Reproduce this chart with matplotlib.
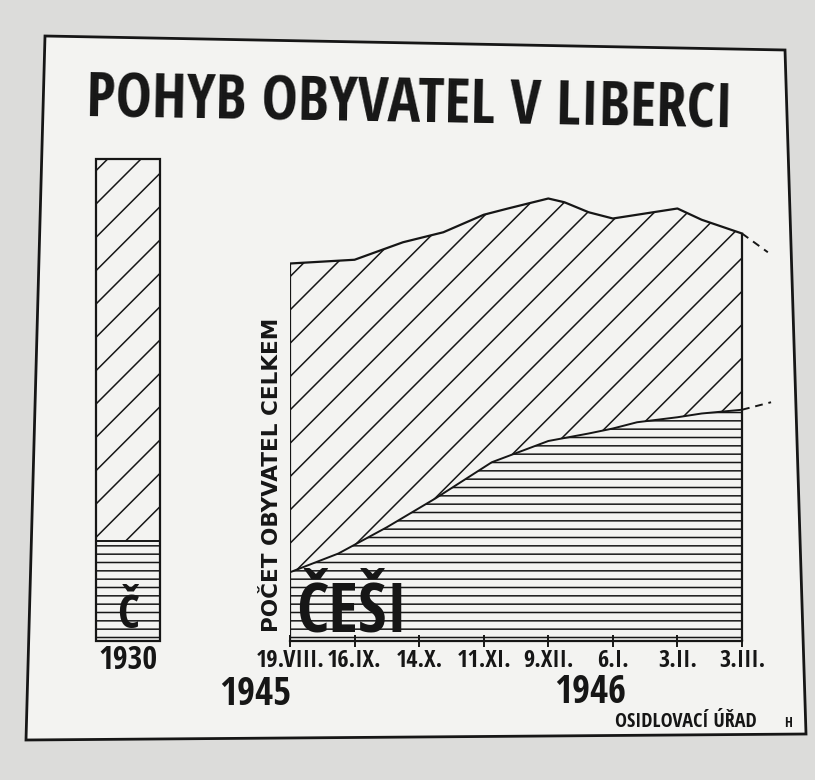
"""Pohyb obyvatel v Liberci - prekresleni plakatu (1930, 1945-1946)."""
import matplotlib
matplotlib.use("Agg")
import matplotlib.pyplot as plt
from matplotlib.patches import Polygon

plt.rcParams["font.family"] = ["DejaVu Sans"]
plt.rcParams["hatch.linewidth"] = 1.1

# pismo "rucniho" napisu - uzke, tucne
COND = ["Open Sans Condensed", "DejaVu Sans"]

# --- data (tisice obyvatel) ---
bar_year = "1930"
total_1930 = 38.6
czech_1930 = 8.0

# tydny od 19.VIII.1945
total_weeks = [0, 4, 7, 9.5, 12, 13.5, 16, 17, 18.5, 20, 24, 25.5, 28]
total_vals = [30.2, 30.5, 31.9, 32.7, 34.1, 34.6, 35.4, 35.1, 34.3, 33.8, 34.6, 33.7, 32.6]
total_trend_weeks = [28, 29.6]
total_trend_vals = [32.6, 31.1]

czech_weeks = [0, 3, 6, 9, 12.5, 16, 18.5, 20, 21.5, 24, 25.5, 28]
czech_vals = [5.5, 7.0, 9.1, 11.4, 14.3, 16.0, 16.6, 17.0, 17.5, 17.9, 18.2, 18.5]
czech_trend_weeks = [28, 29.8]
czech_trend_vals = [18.5, 19.1]

tick_weeks = [0, 4, 8, 12, 16, 20, 24, 28]
tick_labels = ["19.VIII.", "16.IX.", "14.X.", "11.XI.", "9.XII.", "6.I.", "3.II.", "3.III."]

INK = "#161616"
PAPER = "#f3f3f1"
W, H = 815, 780


def fx(px):
    return px / W


def fy(py):
    return 1 - py / H


fig = plt.figure(figsize=(8.15, 7.8), dpi=100, facecolor="#dcdcda")

# ramecek plakatu
frame = Polygon([(fx(45), fy(36)), (fx(785), fy(50)), (fx(806), fy(734)), (fx(26), fy(740))],
                closed=True, transform=fig.transFigure, facecolor=PAPER,
                edgecolor=INK, lw=2.0, zorder=0)
fig.add_artist(frame)

YMAX = 45.0
base_px, top_px = 641, 641 - 12.5 * YMAX

# hlavni graf
ax = fig.add_axes([fx(290), fy(base_px), fx(795) - fx(290), (base_px - top_px) / H])
ax.set_facecolor("none")
ax.set_xlim(0, 505 / (452 / 28))
ax.set_ylim(0, YMAX)

ax.fill_between(total_weeks, 0, total_vals, facecolor="none", hatch="/",
                edgecolor=INK, lw=0)
ax.fill_between(czech_weeks, 0, czech_vals, facecolor=PAPER, hatch="--",
                edgecolor=INK, lw=0)
ax.plot(total_weeks, total_vals, color=INK, lw=1.6)
ax.plot(czech_weeks, czech_vals, color=INK, lw=1.4)
ax.vlines([total_weeks[0], total_weeks[-1]], 0, [total_vals[0], total_vals[-1]],
          color=INK, lw=1.6)
ax.plot(total_trend_weeks, total_trend_vals, color=INK, lw=1.4, ls=(0, (4, 3)))
ax.plot(czech_trend_weeks, czech_trend_vals, color=INK, lw=1.4, ls=(0, (4, 3)))

for side in ["top", "right", "left"]:
    ax.spines[side].set_visible(False)
ax.spines["bottom"].set_bounds(0, 28)
ax.spines["bottom"].set_linewidth(1.6)
ax.spines["bottom"].set_color(INK)
ax.set_yticks([])
ax.set_xticks(tick_weeks)
ax.set_xticklabels(tick_labels, fontsize=17.5, fontweight="bold", color=INK,
                   family=COND, fontstretch="condensed")
ax.tick_params(axis="x", direction="inout", length=9, width=1.4, color=INK, pad=1)

# sloupec 1930
axb = fig.add_axes([fx(96), fy(base_px), fx(160) - fx(96), (base_px - top_px) / H])
axb.set_facecolor("none")
axb.set_xlim(0, 1)
axb.set_ylim(0, YMAX)
axb.bar(0.5, total_1930, width=1, facecolor="none", hatch="/", edgecolor=INK, lw=0)
axb.bar(0.5, czech_1930, width=1, facecolor=PAPER, hatch="--", edgecolor=INK, lw=0)
axb.bar(0.5, total_1930, width=1, fill=False, edgecolor=INK, lw=1.6, clip_on=False)
axb.bar(0.5, czech_1930, width=1, fill=False, edgecolor=INK, lw=1.4, clip_on=False)
axb.text(0.5, 1.0, "Č", ha="center", va="baseline", fontsize=34,
         fontweight="bold", color=INK, family=COND, fontstretch="condensed")
for s in axb.spines.values():
    s.set_visible(False)
axb.set_xticks([0.5])
axb.set_xticklabels([bar_year], fontsize=23, fontweight="bold", color=INK,
                    family=COND, fontstretch="condensed")
axb.tick_params(axis="x", length=0, pad=2)
axb.set_yticks([])

# texty
fig.text(fx(410), fy(128), "POHYB OBYVATEL V LIBERCI", ha="center", va="baseline",
         fontsize=44, fontweight="bold", color=INK, rotation=-1.0,
         family=COND, fontstretch="condensed")
fig.text(fx(272), fy(475), "POČET OBYVATEL CELKEM", ha="center", va="center",
         rotation=90, fontsize=15.5, fontweight="bold", color=INK)
fig.text(fx(296), fy(632), "ČEŠI", ha="left", va="baseline", fontsize=50,
         fontweight="bold", color=INK, family=COND, fontstretch="condensed")
fig.text(fx(255), fy(705), "1945", ha="center", va="baseline", fontsize=28,
         fontweight="bold", color=INK, family=COND, fontstretch="condensed")
fig.text(fx(590), fy(703), "1946", ha="center", va="baseline", fontsize=28,
         fontweight="bold", color=INK, family=COND, fontstretch="condensed")
fig.text(fx(757), fy(727), "OSIDLOVACÍ ÚŘAD", ha="right", va="baseline",
         fontsize=14.5, fontweight="bold", color=INK, family=COND,
         fontstretch="condensed")
fig.text(fx(788), fy(727), "H", ha="center", va="baseline", fontsize=10,
         fontweight="bold", color=INK, family=COND, fontstretch="condensed")

fig.savefig("out.png", dpi=100, facecolor=fig.get_facecolor())
